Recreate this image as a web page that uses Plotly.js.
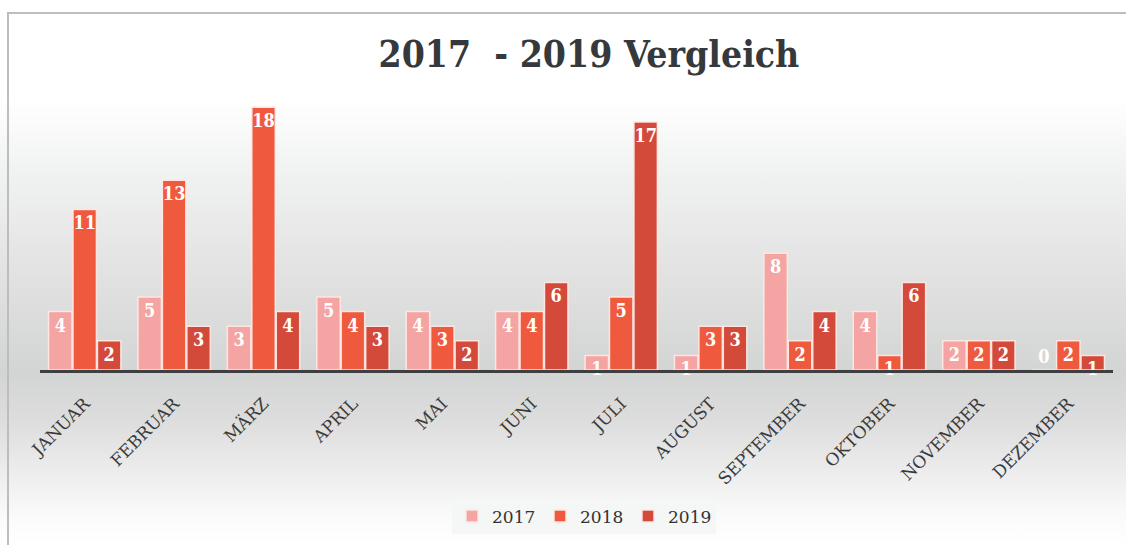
<!DOCTYPE html>
<html>
<head>
<meta charset="utf-8">
<script src="https://cdn.plot.ly/plotly-3.0.1.min.js"></script>
<style>
  html, body { margin: 0; padding: 0; background: #ffffff; }
  #wrap { position: relative; width: 1126px; height: 545px; overflow: hidden;
    background: linear-gradient(to bottom, #ffffff 0px, #ffffff 100px, #f1f2f2 170px, #e3e4e3 260px, #d3d5d4 372px, #dcdddc 420px, #ececec 470px, #fafafa 515px, #ffffff 545px); }
  #frame { position: absolute; left: 7px; top: 12px; width: 1200px; height: 600px;
    border-top: 2px solid #bdbdbd; border-left: 2px solid #bdbdbd; pointer-events: none; }
  #chart { position: absolute; left: 0; top: 0; width: 1126px; height: 545px; }
</style>
</head>
<body>
<div id="wrap">
  <div id="chart"></div>
  <div id="frame"></div>
</div>
<script>
const months = ['JANUAR','FEBRUAR','MÄRZ','APRIL','MAI','JUNI','JULI','AUGUST','SEPTEMBER','OKTOBER','NOVEMBER','DEZEMBER'];
const series2017 = [4, 5, 3, 5, 4, 4, 1, 1, 8, 4, 2, 0];
const series2018 = [11, 13, 18, 4, 3, 4, 5, 3, 2, 1, 2, 2];
const series2019 = [2, 3, 4, 3, 2, 6, 17, 3, 4, 6, 2, 1];
const seriesNames = ['2017', '2018', '2019'];
const seriesColors = ['#f4a4a2', '#ef5a3f', '#d34a3a'];

const labelFont = {family: 'DejaVu Serif Condensed, DejaVu Serif, serif', size: 18, color: '#ffffff', weight: 'bold'};
const allSeries = [series2017, series2018, series2019];

const traces = allSeries.map((vals, i) => ({
  type: 'bar',
  name: seriesNames[i],
  x: months,
  y: vals,
  text: vals.map(String),
  textposition: vals.map(v => v > 0 ? 'inside' : 'outside'),
  insidetextanchor: 'end',
  textangle: 0,
  constraintext: 'none',
  cliponaxis: false,
  textfont: labelFont,
  insidetextfont: labelFont,
  outsidetextfont: labelFont,
  marker: {color: seriesColors[i], line: {color: 'rgba(255,232,228,0.95)', width: 1.5}},
  hoverinfo: 'x+y+name'
}));

const layout = {
  width: 1126, height: 545,
  paper_bgcolor: 'rgba(0,0,0,0)',
  plot_bgcolor: 'rgba(0,0,0,0)',
  margin: {l: 40, r: 13, t: 100, b: 174},
  title: {
    text: '2017&nbsp;&nbsp;- 2019 Vergleich',
    font: {family: 'DejaVu Serif Condensed, DejaVu Serif, serif', size: 37, color: '#35393c', weight: 'bold'},
    x: 0.523, xanchor: 'center', y: 0.9, yanchor: 'middle'
  },
  barmode: 'group',
  bargap: 0.18,
  bargroupgap: 0.04,
  showlegend: true,
  legend: {
    orientation: 'h', x: 0.507, xanchor: 'center', y: -0.47, yanchor: 'top',
    bgcolor: '#f5f6f6',
    font: {family: 'DejaVu Serif, serif', size: 17, color: '#333333'},
    itemwidth: 30,
    entrywidth: 43, entrywidthmode: 'pixels'
  },
  xaxis: {
    type: 'category',
    showline: true, linecolor: '#3d3f41', linewidth: 3,
    showgrid: false, zeroline: false, ticks: '',
    tickangle: -45,
    ticklabelstandoff: 14,
    tickfont: {family: 'DejaVu Serif, serif', size: 17, color: '#3a3a3a'},
    fixedrange: true
  },
  yaxis: {
    range: [0, 18.5], visible: false, showgrid: false, zeroline: false, fixedrange: true
  }
};

Plotly.newPlot('chart', traces, layout, {displayModeBar: false, staticPlot: true});
</script>
</body>
</html>
